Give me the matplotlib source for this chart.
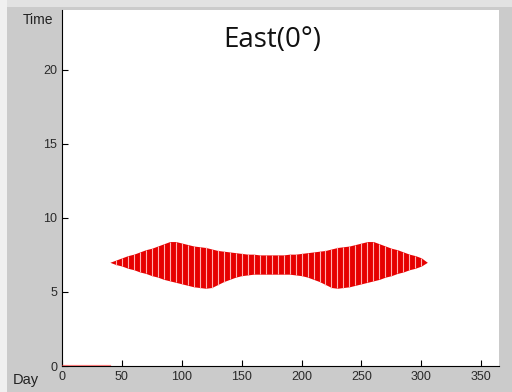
import numpy as np
import matplotlib
matplotlib.use("Agg")
import matplotlib.pyplot as plt
from matplotlib.patches import Rectangle

# day of year, every 5 days while the sun is on the east facade
days = [40, 45, 50, 55, 60, 65, 70, 75, 80, 85, 90, 95, 100, 105, 110, 115, 120,
        125, 130, 135, 140, 145, 150, 155, 160, 165, 170, 175, 180, 185, 190, 195,
        200, 205, 210, 215, 220, 225, 230, 235, 240, 245, 250, 255, 260, 265, 270,
        275, 280, 285, 290, 295, 300, 305]
# end of sunlit period (hour)
upper = [7.0, 7.15, 7.3, 7.45, 7.55, 7.7, 7.85, 7.95, 8.1, 8.25, 8.4, 8.4, 8.3,
         8.2, 8.1, 8.05, 8.0, 7.9, 7.8, 7.75, 7.7, 7.65, 7.6, 7.55, 7.55, 7.5,
         7.5, 7.5, 7.5, 7.5, 7.55, 7.55, 7.6, 7.65, 7.7, 7.75, 7.8, 7.9, 8.0,
         8.05, 8.1, 8.2, 8.3, 8.4, 8.4, 8.25, 8.1, 7.95, 7.85, 7.7, 7.55, 7.45,
         7.3, 7.0]
# start of sunlit period (hour)
lower = [7.0, 6.85, 6.75, 6.6, 6.5, 6.35, 6.25, 6.1, 6.0, 5.85, 5.75, 5.65, 5.55,
         5.45, 5.35, 5.3, 5.25, 5.3, 5.5, 5.7, 5.85, 6.0, 6.1, 6.15, 6.2, 6.2,
         6.2, 6.2, 6.2, 6.2, 6.2, 6.15, 6.1, 6.0, 5.85, 5.7, 5.5, 5.3, 5.25,
         5.3, 5.35, 5.45, 5.55, 5.65, 5.75, 5.85, 6.0, 6.1, 6.25, 6.35, 6.5,
         6.6, 6.75, 7.0]
# no sun before day 40
off_days = [0, 40]
off_vals = [0, 0]

x_ticks = [0, 50, 100, 150, 200, 250, 300, 350]
y_ticks = [0, 5, 10, 15, 20]

fig = plt.figure(figsize=(5.12, 3.92), dpi=100, facecolor='#cbcbcb')
fig.patches.append(Rectangle((0, 0.982), 1, 0.018, transform=fig.transFigure,
                             facecolor='#e2e2e2', edgecolor='none', zorder=-1))
fig.patches.append(Rectangle((0, 0), 0.014, 1, transform=fig.transFigure,
                             facecolor='#f0f0f0', edgecolor='none', zorder=-1))
ax = fig.add_axes([0.121, 0.066, 0.854, 0.908])

ax.fill_between(days, lower, upper, color='#e60000', lw=0)
ax.vlines(days[1:-1], lower[1:-1], upper[1:-1], color='#ffb0b0', lw=0.8)
ax.plot(off_days, off_vals, color='#ff3030', lw=1.6, alpha=0.6, zorder=3)

ax.set_xlim(0, 365)
ax.set_ylim(0, 24)
ax.set_xticks(x_ticks)
ax.set_yticks(y_ticks)
for s in ['top', 'right']:
    ax.spines[s].set_visible(False)
ax.tick_params(direction='in', length=4, labelsize=9, labelcolor='#2a2a2a')
for lab in ax.get_xticklabels() + ax.get_yticklabels():
    lab.set_fontfamily('Liberation Sans')

ax.text(0.48, 0.915, 'East(0°)', transform=ax.transAxes, ha='center', va='center',
        fontsize=20, family='Open Sans', color='#111111')
fig.text(0.075, 0.948, 'Time', ha='center', va='center', fontsize=10,
         family='Liberation Sans', color='#222222')
fig.text(0.05, 0.03, 'Day', ha='center', va='center', fontsize=10.5,
         family='Liberation Sans', color='#222222')

fig.savefig('out.png', dpi=100, facecolor=fig.get_facecolor())
